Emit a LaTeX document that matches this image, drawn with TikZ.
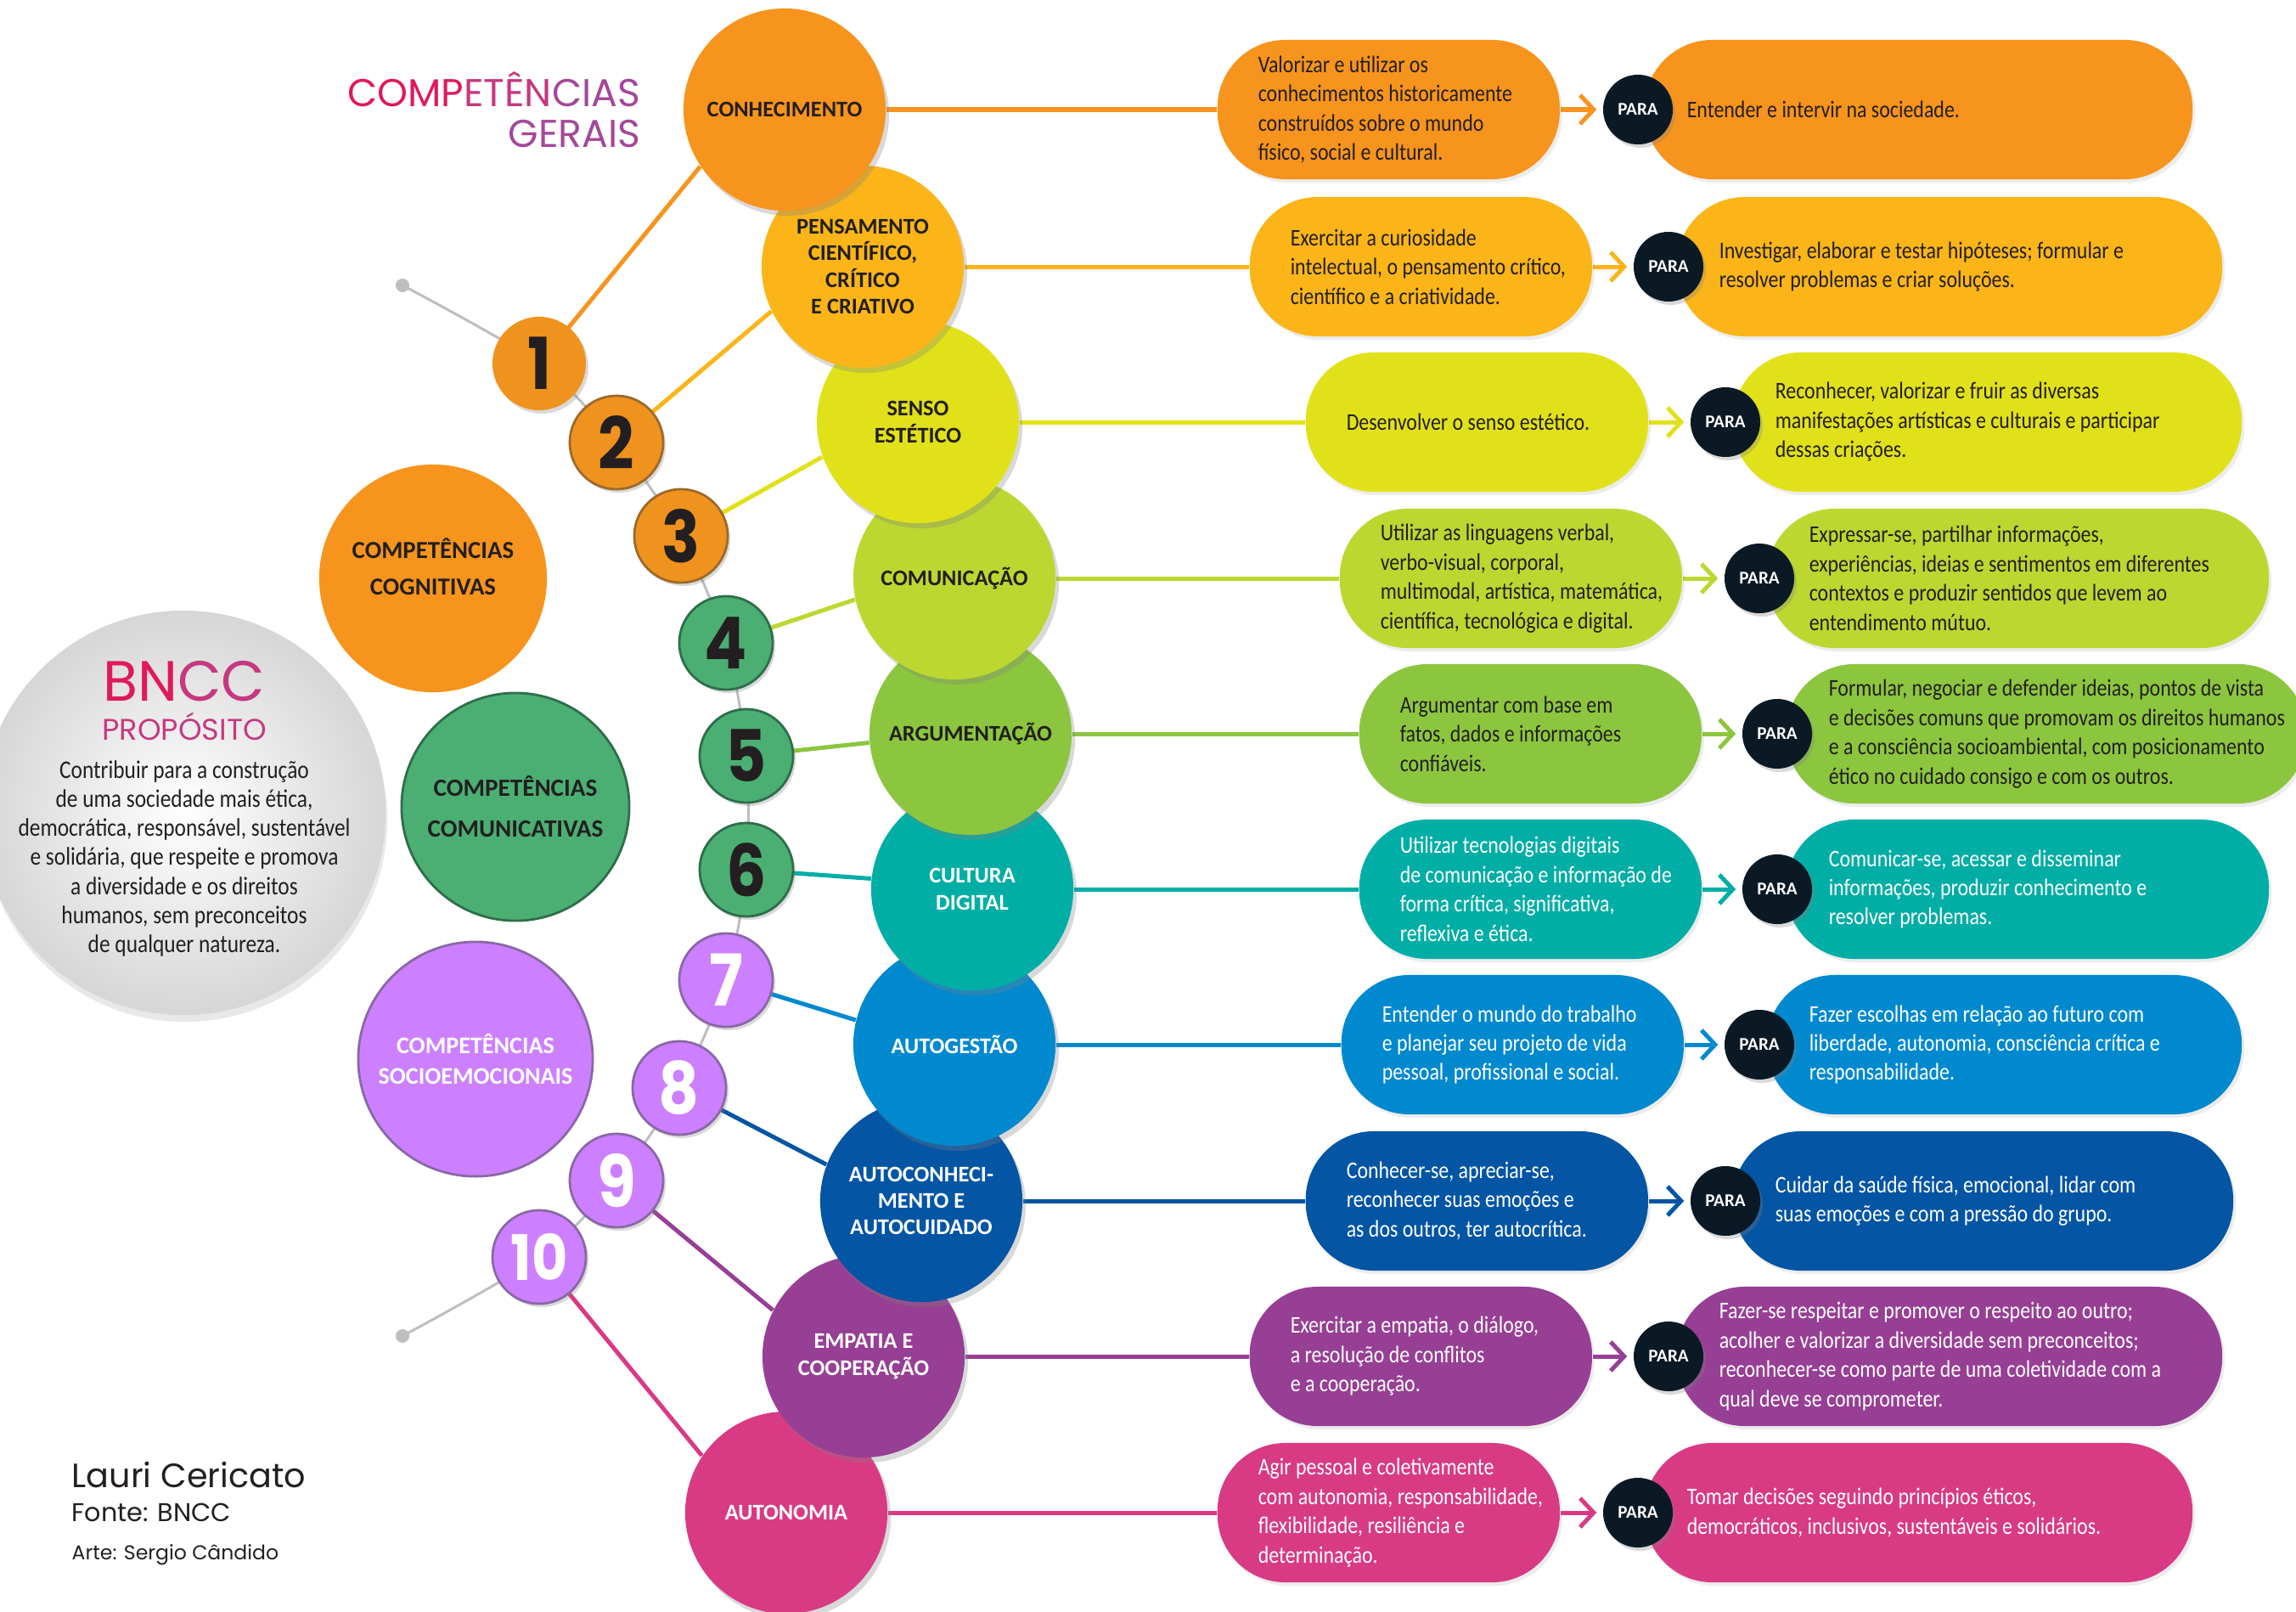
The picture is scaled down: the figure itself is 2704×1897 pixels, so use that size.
\documentclass[tikz,border=0pt]{standalone}
\usepackage{fontspec}
\setmainfont{Carlito}
\newfontfamily\condfont[FakeStretch=0.85]{Carlito}
\newfontfamily\geofont{Poppins}
\newfontfamily\numfont[FakeStretch=0.88]{Poppins}
\usetikzlibrary{positioning,shadows,arrows.meta}
\pgfdeclarelayer{background}
\pgfsetlayers{background,main}

\definecolor{conhec}{HTML}{F7941D}
\definecolor{pensam}{HTML}{FBB519}
\definecolor{senso}{HTML}{E1E11A}
\definecolor{comunic}{HTML}{BDD731}
\definecolor{argum}{HTML}{8CC63F}
\definecolor{cultura}{HTML}{00AEA5}
\definecolor{autoges}{HTML}{0089CF}
\definecolor{autocon}{HTML}{0455A4}
\definecolor{empatia}{HTML}{973F94}
\definecolor{autonom}{HTML}{D93A84}
\definecolor{numorange}{HTML}{F0931E}
\definecolor{numbrown}{HTML}{9C6A2A}
\definecolor{numgreen}{HTML}{4BAF73}
\definecolor{darkgreen}{HTML}{2F6E4A}
\definecolor{numlilac}{HTML}{CC80FF}
\definecolor{darklilac}{HTML}{8A68A6}
\definecolor{inkdark}{HTML}{231F20}
\definecolor{paranavy}{HTML}{0B1925}
\definecolor{arcgray}{HTML}{BCBEC0}
\definecolor{titlered}{HTML}{E0195C}
\definecolor{titlemid}{HTML}{C6387F}
\definecolor{titlepurple}{HTML}{A4489A}

\begin{document}
\begin{tikzpicture}[x=0.01cm, y=-0.01cm]
\tikzstyle{mainc} = [circle, minimum size=2.38cm, inner sep=0pt, align=center, text=inkdark, font=\bfseries\fontsize{7.5}{8.9}\selectfont, drop shadow={shadow xshift=0.04cm, shadow yshift=-0.06cm, opacity=0.3}]
\tikzstyle{numc} = [circle, minimum size=1.1cm, inner sep=0pt, line width=0.8pt, text=inkdark, font=\numfont\bfseries\fontsize{24}{24}\selectfont, drop shadow={shadow xshift=0.03cm, shadow yshift=-0.04cm, opacity=0.3}]
\tikzstyle{groupc} = [circle, inner sep=0pt, line width=0.8pt, align=center, text=inkdark, font=\bfseries\fontsize{8.2}{12.2}\selectfont]
\tikzstyle{lbox} = [rectangle, rounded corners=0.8cm, minimum width=4.03cm, minimum height=1.64cm, anchor=west, drop shadow={shadow xshift=0.03cm, shadow yshift=-0.04cm, opacity=0.15}]
\tikzstyle{rbox} = [rectangle, rounded corners=0.8cm, minimum height=1.64cm, anchor=west, drop shadow={shadow xshift=0.03cm, shadow yshift=-0.04cm, opacity=0.15}]
\tikzstyle{btext} = [align=left, inner sep=0pt, text=inkdark, font=\condfont\fontsize{8}{9.8}\selectfont]
\tikzstyle{para} = [circle, fill=paranavy, minimum size=0.82cm, inner sep=0pt, text=white, font=\bfseries\fontsize{6}{6}\selectfont, drop shadow={shadow xshift=0.03cm, shadow yshift=-0.04cm, opacity=0.3}]
\tikzstyle{dot} = [circle, fill=arcgray, minimum size=0.16cm, inner sep=0pt]
\tikzstyle{arcline} = [arcgray, line width=0.03cm]
\tikzstyle{conn} = [line width=0.05cm]
\tikzstyle{barb} = [conn, -{Straight Barb[length=0.16cm, width=0.34cm]}, shorten >=0.07cm]
\useasboundingbox (0,0) rectangle (2704,1897);
\clip (0,0) rectangle (2704,1897);

% title and credits
\node[anchor=east, align=right, inner sep=0pt, font=\geofont\fontsize{13}{13.7}\selectfont] (title) at (755,129) {{\color{titlered}COMP}{\color{titlemid}ETÊN}{\color{titlepurple}CIAS}\\{\color{titlepurple}GERAIS}};
\node[anchor=west, inner sep=0pt, text=inkdark, font=\geofont\fontsize{11.3}{12}\selectfont] (autor) at (84,1737) {Lauri Cericato};
\node[anchor=west, inner sep=0pt, text=inkdark, font=\geofont\fontsize{8.6}{9}\selectfont] (fonte) at (84,1781) {Fonte: BNCC};
\node[anchor=west, inner sep=0pt, text=inkdark, font=\geofont\fontsize{6.7}{7}\selectfont] (arte) at (84,1831) {Arte: Sergio Cândido};

% BNCC
\node[circle, minimum size=4.76cm, inner color=white, outer color=black!16, drop shadow={shadow xshift=0.02cm, shadow yshift=-0.08cm, opacity=0.18}] (bncc) at (216,957) {};
\node[font=\geofont\fontsize{19}{19}\selectfont] (bnccT) at (217,802) {{\color{titlered}BN}{\color{titlemid}CC}};
\node[text=titlemid, font=\geofont\fontsize{10}{10}\selectfont] (propo) at (217,855) {PROPÓSITO};
\node[align=center, text=inkdark, font=\condfont\fontsize{8.5}{9.7}\selectfont] (propT) at (217,1011) {Contribuir para a construção\\de uma sociedade mais ética,\\democrática, responsável, sustentável\\e solidária, que respeite e promova\\a diversidade e os direitos\\humanos, sem preconceitos\\de qualquer natureza.};

% grupos
\node[groupc, fill=conhec, minimum size=2.68cm] (cogn) at (510,681) {COMPETÊNCIAS\\COGNITIVAS\\[-0.15cm]};
\node[groupc, fill=numgreen, draw=darkgreen, minimum size=2.68cm, font=\bfseries\fontsize{8.3}{13.7}\selectfont] (comu) at (607,950) {COMPETÊNCIAS\\COMUNICATIVAS};
\node[groupc, fill=numlilac, draw=darklilac, minimum size=2.76cm, text=white, font=\bfseries\fontsize{8}{10.3}\selectfont] (socio) at (560,1247) {COMPETÊNCIAS\\SOCIOEMOCIONAIS};

% competencias
\node[mainc, fill=autonom, text=white] (m10) at (926,1781) {AUTONOMIA};
\node[mainc, fill=empatia, text=white] (m9) at (1017,1597) {EMPATIA E\\COOPERAÇÃO};
\node[mainc, fill=autocon, text=white] (m8) at (1085,1414) {AUTOCONHECI-\\MENTO E\\AUTOCUIDADO};
\node[mainc, fill=autoges, text=white] (m7) at (1124,1230) {AUTOGESTÃO};
\node[mainc, fill=cultura, text=white] (m6) at (1145,1047) {CULTURA\\DIGITAL};
\node[mainc, fill=argum] (m5) at (1143,864) {ARGUMENTAÇÃO};
\node[mainc, fill=comunic] (m4) at (1124,681) {COMUNICAÇÃO};
\node[mainc, fill=senso] (m3) at (1081,497) {SENSO\\ESTÉTICO};
\node[mainc, fill=pensam] (m2) at (1016,314) {PENSAMENTO\\CIENTÍFICO,\\CRÍTICO\\E CRIATIVO};
\node[mainc, fill=conhec] (m1) at (924,129) {CONHECIMENTO};

% numeros
\node[dot] (dtop) at (474,336) {};
\node[dot] (dbot) at (474,1573) {};
\node[numc, fill=numorange] (n1) at (635,428) {1};
\node[numc, fill=numorange, draw=numbrown] (n2) at (726,521) {2};
\node[numc, fill=numorange, draw=numbrown] (n3) at (802,631) {3};
\node[numc, fill=numgreen, draw=darkgreen] (n4) at (855,757) {4};
\node[numc, fill=numgreen, draw=darkgreen] (n5) at (879,890) {5};
\node[numc, fill=numgreen, draw=darkgreen] (n6) at (879,1024) {6};
\node[numc, fill=numlilac, draw=darklilac, text=white] (n7) at (855,1154) {7};
\node[numc, fill=numlilac, draw=darklilac, text=white] (n8) at (800,1281) {8};
\node[numc, fill=numlilac, draw=darklilac, text=white] (n9) at (726,1390) {9};
\node[numc, fill=numlilac, draw=darklilac, text=white, font=\numfont\bfseries\fontsize{21}{21}\selectfont] (n10) at (635,1480) {10};

% linha 1
\node[lbox, fill=conhec] (l1) at (1433,129) {};
\node[btext, right=0.48cm of l1.west] (lt1) {Valorizar e utilizar os\\conhecimentos historicamente\\construídos sobre o mundo\\físico, social e cultural.};
\node[rbox, fill=conhec, minimum width=6.45cm] (r1) at (1936,129) {};
\node[para] (p1) at (1929,129) {PARA};
\node[btext, right=0.5cm of r1.west] (rt1) {Entender e intervir na sociedade.};
% linha 2
\node[lbox, fill=pensam] (l2) at (1471,314) {};
\node[btext, right=0.48cm of l2.west] (lt2) {Exercitar a curiosidade\\intelectual, o pensamento crítico,\\científico e a criatividade.};
\node[rbox, fill=pensam, minimum width=6.42cm] (r2) at (1974,314) {};
\node[para] (p2) at (1965,314) {PARA};
\node[btext, right=0.5cm of r2.west] (rt2) {Investigar, elaborar e testar hipóteses; formular e\\resolver problemas e criar soluções.};
% linha 3
\node[lbox, fill=senso] (l3) at (1537,497) {};
\node[btext, right=0.48cm of l3.west] (lt3) {Desenvolver o senso estético.};
\node[rbox, fill=senso, minimum width=5.99cm] (r3) at (2040,497) {};
\node[para] (p3) at (2032,497) {PARA};
\node[btext, right=0.5cm of r3.west] (rt3) {Reconhecer, valorizar e fruir as diversas\\manifestações artísticas e culturais e participar\\dessas criações.};
% linha 4
\node[lbox, fill=comunic] (l4) at (1577,681) {};
\node[btext, right=0.48cm of l4.west] (lt4) {Utilizar as linguagens verbal,\\verbo-visual, corporal,\\multimodal, artística, matemática,\\científica, tecnológica e digital.};
\node[rbox, fill=comunic, minimum width=5.91cm] (r4) at (2080,681) {};
\node[para] (p4) at (2072,681) {PARA};
\node[btext, right=0.5cm of r4.west] (rt4) {Expressar-se, partilhar informações,\\experiências, ideias e sentimentos em diferentes\\contextos e produzir sentidos que levem ao\\entendimento mútuo.};
% linha 5
\node[lbox, fill=argum] (l5) at (1600,864) {};
\node[btext, right=0.48cm of l5.west] (lt5) {Argumentar com base em\\fatos, dados e informações\\confiáveis.};
\node[rbox, fill=argum, minimum width=6.12cm] (r5) at (2103,864) {};
\node[para] (p5) at (2093,864) {PARA};
\node[btext, right=0.5cm of r5.west] (rt5) {Formular, negociar e defender ideias, pontos de vista\\e decisões comuns que promovam os direitos humanos\\e a consciência socioambiental, com posicionamento\\ético no cuidado consigo e com os outros.};
% linha 6
\node[lbox, fill=cultura] (l6) at (1600,1047) {};
\node[btext, text=white, right=0.48cm of l6.west] (lt6) {Utilizar tecnologias digitais\\de comunicação e informação de\\forma crítica, significativa,\\reflexiva e ética.};
\node[rbox, fill=cultura, minimum width=5.68cm] (r6) at (2103,1047) {};
\node[para] (p6) at (2093,1047) {PARA};
\node[btext, text=white, right=0.5cm of r6.west] (rt6) {Comunicar-se, acessar e disseminar\\informações, produzir conhecimento e\\resolver problemas.};
% linha 7
\node[lbox, fill=autoges] (l7) at (1579,1230) {};
\node[btext, text=white, right=0.48cm of l7.west] (lt7) {Entender o mundo do trabalho\\e planejar seu projeto de vida\\pessoal, profissional e social.};
\node[rbox, fill=autoges, minimum width=5.59cm] (r7) at (2080,1230) {};
\node[para] (p7) at (2072,1230) {PARA};
\node[btext, text=white, right=0.5cm of r7.west] (rt7) {Fazer escolhas em relação ao futuro com\\liberdade, autonomia, consciência crítica e\\responsabilidade.};
% linha 8
\node[lbox, fill=autocon] (l8) at (1537,1414) {};
\node[btext, text=white, right=0.48cm of l8.west] (lt8) {Conhecer-se, apreciar-se,\\reconhecer suas emoções e\\as dos outros, ter autocrítica.};
\node[rbox, fill=autocon, minimum width=5.89cm] (r8) at (2040,1414) {};
\node[para] (p8) at (2032,1414) {PARA};
\node[btext, text=white, right=0.5cm of r8.west] (rt8) {Cuidar da saúde física, emocional, lidar com\\suas emoções e com a pressão do grupo.};
% linha 9
\node[lbox, fill=empatia] (l9) at (1471,1597) {};
\node[btext, text=white, right=0.48cm of l9.west] (lt9) {Exercitar a empatia, o diálogo,\\a resolução de conflitos\\e a cooperação.};
\node[rbox, fill=empatia, minimum width=6.42cm] (r9) at (1974,1597) {};
\node[para] (p9) at (1965,1597) {PARA};
\node[btext, text=white, right=0.5cm of r9.west] (rt9) {Fazer-se respeitar e promover o respeito ao outro;\\acolher e valorizar a diversidade sem preconceitos;\\reconhecer-se como parte de uma coletividade com a\\qual deve se comprometer.};
% linha 10
\node[lbox, fill=autonom] (l10) at (1433,1781) {};
\node[btext, text=white, right=0.48cm of l10.west] (lt10) {Agir pessoal e coletivamente\\com autonomia, responsabilidade,\\flexibilidade, resiliência e\\determinação.};
\node[rbox, fill=autonom, minimum width=6.45cm] (r10) at (1936,1781) {};
\node[para] (p10) at (1929,1781) {PARA};
\node[btext, text=white, right=0.5cm of r10.west] (rt10) {Tomar decisões seguindo princípios éticos,\\democráticos, inclusivos, sustentáveis e solidários.};

% ligacoes
\begin{pgfonlayer}{background}
\draw[arcline] plot[smooth] coordinates {(dtop.center) (n1.center) (n2.center) (n3.center) (n4.center) (n5.center) (n6.center) (n7.center) (n8.center) (n9.center) (n10.center) (dbot.center)};
\draw[conn, conhec] (n1.center) -- (m1.214);
\draw[conn, pensam] (n2.center) -- (m2.206);
\draw[conn, senso] (n3.center) -- (m3.200);
\draw[conn, comunic] (n4.center) -- (m4.192);
\draw[conn, argum] (n5.center) -- (m5.185);
\draw[conn, cultura] (n6.center) -- (m6.174);
\draw[conn, autoges] (n7.center) -- (m7.166);
\draw[conn, autocon] (n8.center) -- (m8.159);
\draw[conn, empatia] (n9.center) -- (m9.153);
\draw[conn, autonom] (n10.center) -- (m10.146);
\draw[conn, conhec] (m1) -- (l1);
\draw[conn, pensam] (m2) -- (l2);
\draw[conn, senso] (m3) -- (l3);
\draw[conn, comunic] (m4) -- (l4);
\draw[conn, argum] (m5) -- (l5);
\draw[conn, cultura] (m6) -- (l6);
\draw[conn, autoges] (m7) -- (l7);
\draw[conn, autocon] (m8) -- (l8);
\draw[conn, empatia] (m9) -- (l9);
\draw[conn, autonom] (m10) -- (l10);
\draw[barb, conhec] (l1) -- (p1);
\draw[barb, pensam] (l2) -- (p2);
\draw[barb, senso] (l3) -- (p3);
\draw[barb, comunic] (l4) -- (p4);
\draw[barb, argum] (l5) -- (p5);
\draw[barb, cultura] (l6) -- (p6);
\draw[barb, autoges] (l7) -- (p7);
\draw[barb, autocon] (l8) -- (p8);
\draw[barb, empatia] (l9) -- (p9);
\draw[barb, autonom] (l10) -- (p10);
\end{pgfonlayer}
\end{tikzpicture}
\end{document}
